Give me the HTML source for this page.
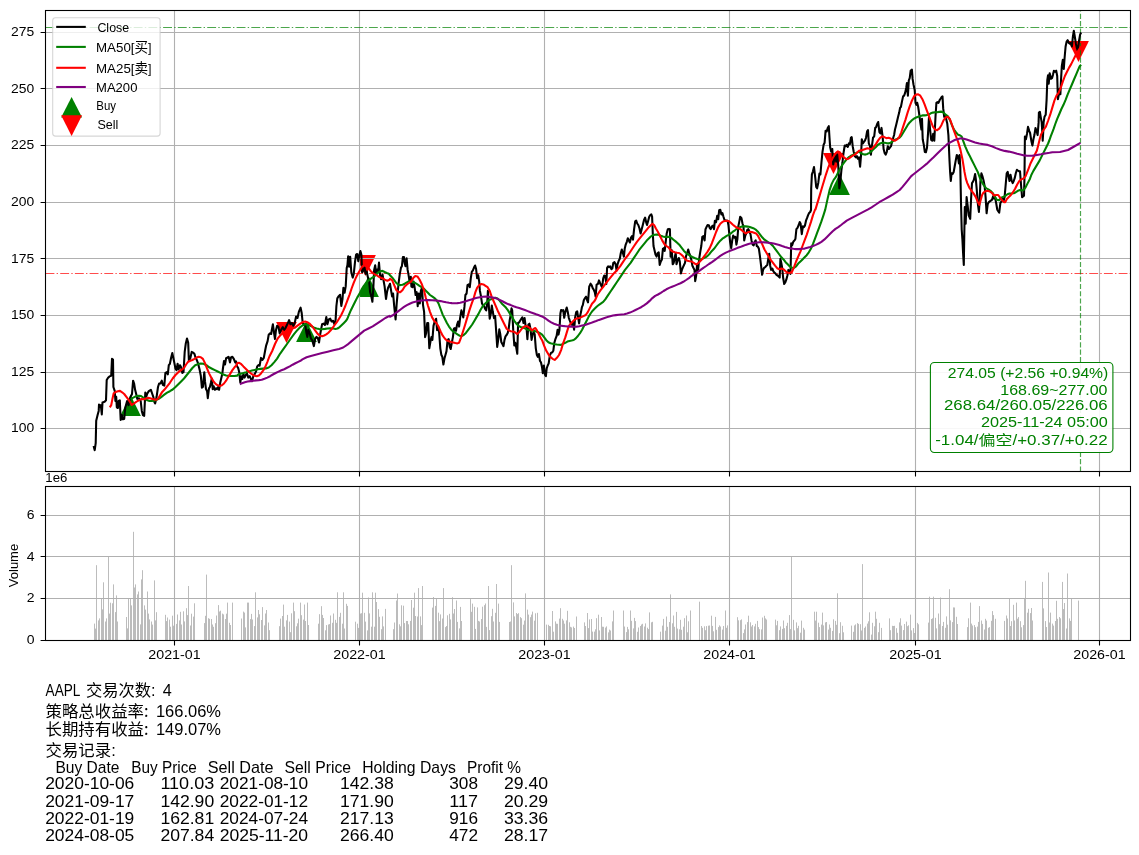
<!DOCTYPE html><html><head><meta charset="utf-8"><title>AAPL</title><style>html,body{margin:0;padding:0;background:#fff}svg{display:block}text{font-family:"Liberation Sans", "Noto Sans CJK SC", sans-serif}</style></head><body>
<svg width="1139" height="855" viewBox="0 0 1139 855">
<rect width="1139" height="855" fill="#fff"/>
<defs><clipPath id="c1"><rect x="45.5" y="10.5" width="1085.0" height="461.0"/></clipPath></defs>
<g>
<path d="M130.5 395.1 L120.1 415.9 L140.9 415.9 Z" fill="#008000"/>
<path d="M306.5 321.1 L296.1 341.9 L316.9 341.9 Z" fill="#008000"/>
<path d="M368.5 276.1 L358.1 296.9 L378.9 296.9 Z" fill="#008000"/>
<path d="M839.5 174.1 L829.1 194.9 L849.9 194.9 Z" fill="#008000"/>
<path d="M286.5 342.9 L276.1 322.1 L296.9 322.1 Z" fill="#ff0000"/>
<path d="M365.5 275.9 L355.1 255.1 L375.9 255.1 Z" fill="#ff0000"/>
<path d="M833.5 173.9 L823.1 153.1 L843.9 153.1 Z" fill="#ff0000"/>
<path d="M1078.5 61.9 L1068.1 41.1 L1088.9 41.1 Z" fill="#ff0000"/>
<path d="M174.5 10.5 V471.5 M359.5 10.5 V471.5 M544.5 10.5 V471.5 M729.5 10.5 V471.5 M915.5 10.5 V471.5 M1099.5 10.5 V471.5 M45.5 428.5 H1130.5 M45.5 372.5 H1130.5 M45.5 315.5 H1130.5 M45.5 258.5 H1130.5 M45.5 202.5 H1130.5 M45.5 145.5 H1130.5 M45.5 88.5 H1130.5 M45.5 32.5 H1130.5" stroke="#b0b0b0" stroke-width="1.1" fill="none"/>
<g clip-path="url(#c1)">
<path d="M45.5 273.5 H1130.5" stroke="#ff0000" stroke-opacity="0.7" stroke-width="1.2" stroke-dasharray="8.9,2.2,1.4,2.2" fill="none"/>
<path d="M45.5 27.5 H1130.5" stroke="#008000" stroke-opacity="0.7" stroke-width="1.2" stroke-dasharray="8.9,2.2,1.4,2.2" fill="none"/>
<path d="M1080.5 471.5 V10.5" stroke="#008000" stroke-opacity="0.7" stroke-width="1.2" stroke-dasharray="5.1,2.2" fill="none"/>
<polyline points="93.6,446.0 94.7,450.2 95.7,443.2 96.2,420.7 97.6,415.1 98.7,410.9 99.0,404.5 99.9,406.6 100.8,405.2 101.8,414.4 102.5,402.4 104.6,401.7 106.0,400.3 106.7,380.0 108.1,377.8 109.5,376.4 111.2,375.7 112.0,358.9 113.0,359.6 113.4,387.0 114.8,391.2 115.4,401.0 116.2,396.8 116.8,407.3 117.9,408.0 118.6,401.0 119.8,400.3 120.7,420.0 121.9,415.1 122.8,419.3 124.2,419.0 125.2,408.0 127.1,401.0 128.5,405.2 130.6,396.8 132.0,394.0 133.1,380.7 134.1,383.5 135.1,389.8 136.2,394.0 137.3,398.9 139.0,398.2 140.7,401.0 141.8,410.9 142.9,415.1 144.2,415.8 145.3,392.6 146.3,396.8 147.4,393.3 148.8,391.2 150.9,389.8 152.3,394.0 153.3,396.8 154.5,402.4 155.2,403.4 156.6,396.8 158.0,387.0 159.1,383.5 160.4,383.5 161.8,380.7 162.9,384.9 164.3,385.6 165.4,372.9 166.8,372.2 167.8,374.3 168.8,365.2 169.9,363.8 171.0,358.2 172.3,353.0 173.4,358.2 174.4,363.1 175.5,368.7 176.5,370.1 177.6,363.8 178.6,369.4 180.0,365.2 181.1,367.3 182.3,372.9 183.5,372.2 184.7,351.9 185.8,343.4 187.0,338.5 188.2,342.7 188.9,361.0 190.3,358.2 191.7,351.9 193.1,352.6 194.5,354.0 195.5,357.5 196.6,359.6 197.7,362.4 198.7,365.9 199.7,370.1 200.8,375.7 201.9,387.7 202.9,387.0 204.3,372.2 205.0,381.4 206.0,389.1 207.1,391.2 207.8,398.2 209.0,388.4 209.9,387.0 210.9,382.8 211.8,378.5 212.7,389.1 213.7,386.3 214.9,389.8 216.0,388.4 217.0,389.1 218.1,387.0 219.1,389.8 220.2,382.8 221.2,378.5 222.2,374.3 223.0,368.0 224.0,361.0 225.0,364.5 226.1,358.2 227.5,357.5 228.6,356.8 230.0,362.4 231.0,357.5 232.4,356.8 233.8,358.9 235.2,362.4 236.1,361.4 237.1,366.4 238.1,367.8 239.2,372.0 240.3,382.5 241.3,376.2 242.3,379.0 243.4,374.1 244.6,377.6 245.5,375.5 246.9,373.4 248.3,377.6 249.7,376.2 251.2,379.7 252.1,381.1 253.3,376.2 254.7,374.1 256.1,371.3 257.2,366.4 258.6,365.0 259.6,365.7 261.0,357.9 262.4,360.0 263.8,357.9 265.2,350.2 266.2,345.3 267.6,341.1 268.7,334.7 270.1,333.3 271.2,334.0 271.8,329.9 272.9,324.3 274.1,333.4 275.0,339.0 276.0,329.9 277.1,325.7 278.5,327.1 279.7,333.4 281.1,329.9 282.8,327.1 284.2,329.9 285.6,327.8 287.3,324.3 289.1,320.1 290.5,324.3 291.9,322.9 293.3,325.7 294.7,322.9 296.1,316.6 297.5,318.0 298.9,311.6 300.6,307.7 301.7,313.0 302.7,322.9 303.8,325.0 305.2,324.3 306.4,332.7 307.3,336.9 308.3,329.9 309.5,332.7 310.9,338.3 312.3,340.4 313.9,346.1 315.1,339.0 316.5,336.9 317.9,338.3 319.0,342.5 320.0,335.5 321.0,329.9 322.1,324.3 323.5,323.6 324.9,325.0 326.3,317.0 327.4,324.3 328.8,319.4 330.2,318.7 331.6,321.5 333.1,320.8 334.5,324.3 335.6,320.1 336.4,306.0 337.3,298.3 338.7,296.2 340.1,294.8 341.3,306.0 342.5,299.0 343.4,287.8 344.6,292.7 345.7,286.4 346.7,268.1 347.4,265.3 348.2,256.2 349.1,266.7 350.2,256.9 351.3,272.3 352.7,277.6 353.8,273.7 355.1,261.1 356.1,254.7 357.2,254.0 358.3,261.1 359.3,255.5 360.4,251.0 361.4,254.7 362.1,272.3 363.5,270.2 364.5,267.4 365.6,273.7 366.8,271.6 367.7,276.5 369.2,282.1 370.1,292.0 371.3,296.2 372.4,301.8 373.4,286.4 374.1,270.2 375.2,265.3 376.2,273.7 377.2,269.5 378.0,272.3 379.0,262.5 380.0,275.1 381.1,279.3 382.5,274.4 383.6,280.7 384.6,286.4 386.0,299.0 387.0,292.0 388.1,287.8 389.5,285.0 390.0,283.7 391.1,290.7 392.1,296.4 393.1,293.5 394.2,306.2 395.6,319.5 396.7,303.4 397.7,292.1 398.7,282.3 399.8,273.9 401.0,267.6 401.9,266.2 402.9,257.0 404.0,257.0 404.7,263.3 405.5,266.2 406.6,258.4 407.6,269.7 408.5,274.6 409.7,282.3 410.8,276.7 411.4,286.5 412.5,287.2 413.6,281.6 414.6,287.2 415.6,295.0 416.7,292.1 417.7,306.2 418.8,293.5 419.8,303.4 420.9,290.7 422.0,287.9 423.0,304.8 424.1,311.8 425.1,337.1 426.2,332.9 427.2,323.0 428.2,323.0 429.3,348.3 430.5,341.3 431.4,337.1 432.4,339.9 433.5,325.9 434.7,321.6 436.1,318.8 437.1,330.1 438.0,325.9 439.2,332.9 440.3,348.3 441.3,354.7 442.3,356.8 443.4,364.5 444.5,358.2 445.5,354.7 446.5,351.1 447.6,339.9 448.7,339.2 449.7,346.9 450.7,349.0 451.8,342.7 452.9,337.1 453.9,328.7 454.9,328.0 456.0,330.8 457.1,324.5 458.1,321.6 459.1,326.6 460.2,317.4 461.4,310.4 462.3,313.2 463.3,317.4 464.5,306.2 465.4,295.0 466.6,293.5 467.5,285.1 468.7,284.4 469.8,287.2 470.8,278.1 471.8,271.8 472.9,270.4 474.0,267.6 475.1,265.5 476.1,269.0 477.1,278.1 478.2,275.3 479.2,281.6 479.9,290.7 481.0,296.4 482.0,303.4 483.0,305.5 484.1,306.2 485.2,309.0 486.2,310.4 487.2,303.4 487.9,290.7 488.8,305.5 489.7,318.8 490.9,313.2 491.8,305.5 492.8,311.8 494.0,318.1 495.1,316.0 496.1,330.1 497.2,346.9 498.2,339.9 499.3,329.4 500.3,334.3 501.3,342.0 502.4,344.1 503.5,346.2 504.5,339.9 505.5,336.4 506.6,335.0 507.7,332.9 508.7,328.7 509.7,320.2 510.5,316.0 511.5,308.3 512.2,310.4 513.3,331.5 514.3,345.5 515.3,342.7 516.1,346.9 517.3,353.7 518.1,323.0 519.2,322.3 520.4,320.2 521.3,318.8 522.3,317.4 523.5,323.0 524.6,318.1 525.6,325.9 526.5,327.3 527.4,339.2 528.4,324.5 529.4,323.7 530.5,328.7 531.6,339.9 532.6,334.3 533.6,332.2 534.7,334.3 535.8,348.3 536.8,354.7 537.8,356.8 538.9,354.0 540.0,361.0 541.0,362.4 542.0,366.9 542.8,373.2 543.9,365.5 544.9,374.7 545.9,376.1 546.7,368.3 547.7,365.5 548.7,363.4 549.8,355.7 551.0,352.9 552.4,352.2 553.3,350.8 554.3,343.0 555.5,338.8 556.6,336.0 557.6,329.7 558.5,334.6 559.4,330.4 560.4,313.5 561.1,310.0 562.2,310.7 563.2,310.0 564.2,317.8 565.3,312.1 566.7,307.6 567.8,312.1 568.8,317.8 569.8,320.6 570.9,323.4 572.0,324.8 573.0,322.7 574.1,329.7 575.1,317.8 576.2,312.1 577.2,311.4 578.2,317.8 579.1,323.4 580.0,316.4 581.0,312.1 581.9,307.2 582.8,305.1 583.8,300.2 585.0,298.1 586.1,296.7 587.1,300.2 588.0,302.3 589.2,286.8 590.6,283.7 591.7,285.4 592.7,288.2 593.7,289.6 594.8,292.4 595.6,296.6 596.6,284.7 597.9,284.0 599.0,280.4 600.1,283.2 601.1,285.4 602.1,287.5 603.2,278.3 604.3,275.5 605.3,276.2 606.3,284.0 607.1,267.8 608.1,266.4 609.1,267.1 610.2,266.4 611.4,269.2 612.3,268.5 613.3,262.9 614.5,262.2 615.6,264.3 616.6,270.6 617.5,264.3 618.7,260.8 619.8,258.7 620.8,253.0 621.8,249.5 622.9,253.0 623.9,256.6 624.7,248.8 625.7,244.6 626.8,241.8 627.8,238.3 628.8,240.4 629.9,242.5 631.0,237.6 632.0,236.2 633.0,239.7 634.1,229.2 635.2,221.4 636.2,220.7 637.2,223.5 638.3,225.0 639.5,228.5 640.6,233.4 641.7,229.2 642.8,225.0 644.0,220.0 645.1,217.6 646.1,222.1 647.0,225.0 648.2,220.7 649.3,216.5 650.3,215.1 651.3,214.4 652.1,216.5 652.8,233.4 653.5,246.0 654.5,250.2 655.5,254.5 656.6,256.6 657.7,253.0 658.7,252.3 659.7,265.0 660.8,261.5 661.9,259.4 662.9,248.8 663.9,248.1 664.7,250.9 665.7,241.8 666.7,233.4 667.8,229.2 669.0,228.9 669.9,229.2 670.6,256.6 671.8,250.2 672.7,264.3 673.7,262.9 674.9,256.6 675.7,253.0 676.5,264.3 677.7,260.1 678.8,258.0 679.8,261.5 680.9,273.4 681.9,269.9 683.0,267.1 684.0,265.0 685.0,262.9 686.1,255.9 687.2,253.0 688.2,249.5 689.2,253.0 690.3,255.9 691.4,260.1 692.4,265.7 693.4,267.8 694.5,269.9 695.2,281.1 696.2,275.5 697.1,264.3 698.1,269.9 699.2,258.7 700.3,251.6 701.3,246.0 702.3,236.9 703.4,236.2 704.6,240.4 705.5,229.2 706.5,227.1 707.6,225.0 708.8,225.2 709.7,227.8 710.7,229.2 711.9,226.4 713.0,225.7 714.0,229.2 714.9,220.7 716.1,222.1 717.2,215.8 718.2,219.3 719.2,210.2 720.3,209.8 721.4,214.4 722.4,213.0 723.4,216.5 724.5,220.0 725.6,220.7 726.6,220.5 727.6,220.7 728.4,225.0 729.4,234.8 730.1,241.8 731.2,248.1 732.2,240.4 733.2,235.5 734.3,237.6 735.5,236.9 736.4,244.6 737.4,239.0 738.3,226.4 739.2,222.1 740.2,216.8 741.4,217.9 742.5,223.5 743.5,226.4 744.2,240.4 745.3,235.5 746.3,233.4 747.3,229.9 748.4,229.2 749.5,232.0 750.5,234.1 751.5,240.4 752.6,244.6 753.7,245.3 754.7,241.8 755.7,240.4 756.8,246.0 757.9,246.7 758.9,248.8 759.9,255.9 761.0,265.0 762.1,274.8 763.1,269.9 764.1,267.8 765.2,267.1 766.4,265.7 767.3,265.0 768.3,258.7 769.2,253.7 770.2,265.7 771.1,269.9 772.3,268.5 773.4,271.3 774.4,272.7 775.4,273.4 776.5,274.8 777.6,275.5 778.7,276.6 779.7,277.6 780.4,258.7 781.3,262.9 782.1,267.1 783.2,278.3 784.2,284.0 785.2,282.5 786.3,279.7 787.4,275.5 788.4,269.9 789.4,271.3 790.5,273.8 791.2,243.2 792.2,245.3 793.3,241.8 794.5,240.4 795.4,239.0 796.4,229.2 797.5,227.8 798.7,225.0 799.7,222.1 800.6,223.5 801.8,234.1 802.9,226.4 803.9,227.1 804.9,225.7 806.0,220.7 807.1,217.9 808.1,215.1 809.1,213.0 810.2,212.0 811.0,210.0 811.2,188.3 811.9,174.3 812.9,171.5 814.0,167.0 815.2,177.1 816.2,186.9 817.1,188.3 818.3,182.7 819.4,173.6 820.4,174.3 821.4,163.0 822.5,151.8 823.6,144.8 824.6,142.7 825.6,130.7 826.7,131.4 827.8,127.9 828.8,126.2 829.5,137.8 830.2,147.6 831.2,151.8 832.3,149.0 833.2,164.5 834.1,160.2 835.1,156.0 836.2,161.6 837.2,154.6 838.2,164.5 839.3,188.3 840.5,179.9 841.4,170.1 842.4,163.0 843.5,153.2 844.7,145.5 845.7,146.2 846.6,144.8 847.8,146.9 848.9,143.4 849.9,144.1 850.9,137.8 851.7,137.1 852.7,146.2 853.7,151.8 854.8,156.0 855.9,157.4 856.9,156.0 857.9,158.8 859.0,157.4 860.1,166.6 861.1,154.6 861.8,139.2 862.9,143.4 863.9,142.0 864.9,140.6 866.0,137.8 867.1,131.4 868.0,130.0 868.8,143.4 870.0,146.2 870.9,154.6 871.9,146.2 873.0,137.8 874.2,136.4 875.2,127.9 876.1,127.2 877.3,123.7 878.2,122.0 879.4,132.1 880.4,133.5 881.5,127.9 882.6,136.4 883.6,149.0 884.7,153.2 885.7,154.6 886.8,151.8 887.8,146.2 888.8,149.0 889.9,147.6 891.0,146.2 892.0,142.0 893.0,138.5 894.1,135.0 895.0,129.5 896.1,125.2 897.1,121.0 898.1,116.8 899.2,112.6 900.1,107.7 900.9,107.0 902.0,101.4 903.1,96.4 904.1,95.7 905.1,92.9 906.2,88.0 906.9,83.1 907.9,95.7 908.8,80.3 909.7,78.2 910.7,70.5 911.9,69.7 912.6,78.9 913.5,84.5 914.7,90.1 915.5,102.8 916.4,104.9 917.2,102.8 918.2,107.0 919.2,114.0 920.3,122.4 921.4,129.5 922.0,118.9 922.7,139.3 923.8,144.9 924.8,151.9 925.9,152.3 927.0,147.7 928.0,133.7 929.0,116.8 930.1,129.5 931.2,140.0 932.2,140.7 933.2,133.7 934.3,140.7 935.5,116.8 936.4,102.8 937.4,102.1 938.5,102.8 939.7,100.0 940.7,98.5 941.6,97.1 942.5,96.4 943.2,108.4 944.2,116.8 945.3,116.1 946.3,119.6 947.3,123.8 948.4,135.1 949.5,160.4 950.1,171.9 950.8,181.0 951.6,173.3 952.6,174.0 953.7,171.9 954.7,166.2 955.7,160.6 956.8,155.0 957.9,156.4 958.9,163.4 959.6,155.0 960.3,167.6 961.0,202.8 961.7,229.5 962.4,239.3 963.1,253.3 963.8,264.9 964.3,233.7 964.8,207.0 965.7,223.8 966.6,197.1 967.8,207.0 968.7,215.4 970.2,218.9 971.1,198.5 972.0,183.1 973.0,181.7 973.9,179.6 975.1,174.0 975.8,178.9 976.8,190.1 977.9,204.2 978.9,211.9 979.7,200.0 980.4,181.7 981.4,173.3 982.4,176.1 983.5,180.3 984.6,185.9 985.6,197.1 986.6,213.3 987.7,204.2 988.8,202.1 989.8,201.4 990.8,200.7 991.9,200.0 993.1,196.4 994.0,198.5 995.0,197.1 996.1,202.8 997.3,209.8 998.2,211.2 999.2,212.6 1000.4,202.8 1001.5,201.4 1002.5,198.5 1003.4,201.4 1004.6,197.1 1005.7,184.5 1006.7,173.3 1007.7,171.9 1008.8,177.5 1009.5,181.0 1010.5,174.7 1011.6,180.3 1012.7,183.1 1013.7,181.0 1014.7,178.2 1015.8,173.3 1016.9,169.7 1017.9,170.5 1018.9,171.2 1020.0,171.2 1021.0,184.5 1022.1,197.1 1023.1,196.4 1024.0,195.7 1024.5,176.1 1024.9,136.5 1025.9,139.3 1027.0,133.7 1028.0,126.9 1029.2,130.9 1030.1,133.0 1031.3,140.7 1032.4,145.6 1033.4,139.3 1034.4,135.1 1035.5,128.0 1036.6,130.9 1037.6,135.1 1038.6,122.4 1038.9,112.5 1039.9,111.8 1040.7,116.8 1041.7,122.4 1042.3,132.2 1042.7,140.6 1043.3,130.8 1043.6,122.4 1044.5,116.8 1045.7,114.7 1046.6,99.9 1047.3,80.2 1048.0,75.3 1048.7,83.7 1049.7,73.2 1050.9,78.8 1052.0,78.1 1053.0,74.6 1053.9,70.7 1055.1,71.8 1056.2,70.7 1057.2,76.0 1057.9,99.2 1058.9,94.3 1059.7,88.7 1060.4,94.3 1061.0,80.2 1061.8,66.2 1062.8,59.9 1063.8,69.0 1064.6,57.8 1065.6,46.5 1066.6,41.6 1067.7,40.2 1068.8,43.0 1069.8,43.7 1070.9,43.0 1071.9,46.5 1072.9,36.7 1073.8,30.8 1074.7,36.0 1075.9,43.7 1076.8,47.9 1077.8,50.7 1079.0,40.9 1080.1,34.6 1081.1,32.5" fill="none" stroke="#000" stroke-width="2.08" stroke-linejoin="round" stroke-linecap="butt"/>
<polyline points="130.6,399.6 132.7,397.9 134.8,396.8 136.9,396.1 139.0,395.7 141.1,396.1 143.2,397.5 145.3,398.9 147.4,400.3 149.5,401.0 151.6,401.0 153.7,400.7 156.6,399.9 158.7,398.9 161.5,396.8 164.3,394.7 167.1,392.6 169.9,391.2 172.7,389.5 175.5,387.0 178.3,384.2 181.1,381.4 184.0,378.5 186.8,375.0 189.6,371.5 192.4,368.0 195.2,365.2 198.0,364.1 200.8,363.5 203.6,363.8 206.4,365.2 209.2,367.3 212.0,368.7 214.9,370.1 217.7,371.5 220.5,372.9 223.3,374.6 226.1,375.5 228.9,375.9 231.7,376.0 234.5,376.0 237.3,375.6 237.8,374.8 240.6,373.8 243.4,373.1 246.2,372.3 249.0,371.4 251.9,370.6 254.7,369.9 257.5,369.2 260.3,368.9 263.1,368.6 265.9,368.5 268.7,367.5 271.5,365.2 274.3,362.1 277.1,358.6 280.0,353.8 283.5,348.9 287.0,344.0 290.5,339.0 294.0,334.1 297.5,329.9 300.3,327.1 303.1,325.0 305.2,324.3 308.0,324.7 310.9,326.0 313.7,327.4 316.5,328.5 319.3,329.1 322.1,329.2 324.9,328.9 327.7,328.5 330.5,328.2 333.3,328.5 335.4,328.9 337.5,328.5 339.7,327.1 341.8,325.0 343.9,322.9 346.0,320.8 347.4,318.7 348.8,315.2 350.9,310.2 353.0,306.0 355.1,301.8 357.2,297.6 359.3,294.1 361.4,289.9 363.5,286.4 365.6,283.5 367.7,281.4 369.9,279.3 372.0,277.9 374.1,276.5 376.2,274.4 378.3,272.3 380.4,271.2 382.5,270.9 384.6,272.0 386.7,273.0 388.8,273.7 390.0,275.3 392.1,277.4 394.2,280.2 396.3,283.0 398.4,284.8 400.5,285.1 402.6,284.7 404.7,283.7 406.9,282.3 409.0,281.2 411.1,281.6 413.2,282.3 415.3,283.0 417.4,284.4 419.5,285.8 421.6,287.2 423.7,288.6 425.8,290.7 427.9,292.8 430.0,295.0 432.1,296.4 434.2,297.8 436.4,299.9 438.5,303.4 440.6,309.0 442.7,314.6 444.8,318.8 446.9,323.0 449.0,326.6 451.1,329.4 453.2,331.5 455.3,332.9 457.4,334.3 459.5,335.7 461.6,336.0 463.7,335.0 465.9,332.9 468.0,330.1 470.1,327.3 472.2,324.5 474.3,320.9 476.4,317.4 478.5,313.9 480.6,309.7 482.7,306.2 484.8,304.1 486.9,302.0 489.0,299.9 491.1,299.2 493.2,298.5 495.4,297.8 497.5,298.5 499.6,300.6 501.7,303.4 503.8,305.5 505.9,307.6 508.0,310.4 510.1,313.9 512.2,317.4 514.3,320.9 516.4,323.7 518.5,325.9 520.6,327.0 522.7,327.5 524.9,328.4 527.0,329.4 529.1,330.1 531.2,330.8 533.3,330.8 535.4,331.2 537.5,331.9 539.6,332.9 541.7,334.3 542.1,334.6 544.2,337.4 546.3,340.2 548.4,342.3 550.5,343.3 552.6,343.7 554.7,344.2 556.9,344.5 559.0,344.7 561.1,344.9 563.2,343.7 565.3,342.8 567.4,341.6 569.5,340.9 571.6,340.5 573.7,340.0 575.8,338.4 577.9,336.0 580.0,333.2 582.1,329.7 584.2,325.5 586.4,321.3 588.5,317.1 590.6,313.5 592.7,310.7 594.8,308.6 596.9,306.5 599.0,304.8 601.1,303.3 603.2,301.9 605.3,299.4 608.1,295.2 610.9,291.0 613.7,286.8 616.6,282.5 619.4,278.3 622.2,274.1 625.0,269.9 627.8,266.4 630.6,262.9 633.4,258.7 636.2,254.5 639.0,250.2 641.8,246.7 644.7,243.2 647.5,239.7 650.3,236.9 652.4,235.5 654.5,234.8 656.6,234.5 658.7,234.8 660.8,235.8 662.9,236.5 665.0,236.9 667.1,236.9 669.2,236.9 671.3,237.9 673.5,239.7 675.6,241.4 677.7,243.2 679.8,245.3 681.9,248.1 684.0,250.9 686.1,253.0 688.2,254.5 690.3,255.9 692.4,257.0 694.5,258.0 696.6,258.7 697.1,258.9 699.2,259.4 701.3,259.4 703.4,258.4 705.5,257.3 707.6,255.9 709.7,253.7 711.9,250.9 714.0,248.8 716.1,246.0 718.2,243.2 720.3,240.7 722.4,238.7 724.5,237.3 726.6,235.9 728.7,234.8 730.8,233.4 732.9,231.7 735.0,230.3 737.1,228.5 739.2,227.5 741.4,226.6 743.5,226.4 745.6,226.4 747.7,226.6 749.8,227.1 751.9,227.8 754.0,228.5 756.1,229.9 758.2,232.0 760.3,234.8 762.4,237.6 764.5,239.7 766.6,241.1 768.7,242.5 770.9,243.9 773.0,246.0 775.1,248.8 777.2,251.6 779.3,254.5 781.4,257.3 783.5,259.4 785.6,262.2 787.7,264.3 789.8,266.4 791.9,267.8 794.0,267.8 796.1,266.4 798.2,263.6 800.4,261.5 802.5,259.4 804.6,257.3 806.7,255.2 808.8,252.3 810.9,248.8 813.0,243.9 815.1,238.3 817.2,232.7 819.3,227.1 821.4,221.4 823.5,215.1 825.3,209.4 827.4,199.6 829.5,190.4 831.6,184.1 833.7,179.9 835.8,177.1 837.9,172.9 840.0,168.7 842.1,165.2 844.2,162.3 846.4,159.5 848.5,157.4 850.6,156.0 852.7,154.9 854.8,153.9 856.9,152.5 859.0,151.8 861.1,153.2 863.2,154.3 865.3,154.6 867.4,153.9 869.5,152.8 871.6,151.1 873.7,149.0 875.9,146.9 878.0,144.8 880.1,143.4 882.2,142.7 884.3,142.7 886.4,143.1 888.5,143.4 890.6,142.7 892.7,141.3 895.0,139.7 897.1,138.9 899.2,137.9 901.3,135.8 903.4,132.3 905.5,128.7 907.6,125.2 909.7,122.4 911.9,120.3 914.0,118.6 916.1,117.5 918.2,116.8 920.3,116.1 922.4,115.4 924.5,115.4 926.6,115.1 928.7,114.7 930.8,113.3 932.9,112.6 935.0,112.3 937.1,112.2 939.2,111.9 941.4,111.6 943.5,112.6 945.6,114.7 947.7,116.1 949.8,119.6 951.9,125.2 954.0,129.5 956.1,132.3 958.2,134.8 960.3,135.5 961.7,136.5 963.1,140.7 965.2,146.3 967.3,151.2 969.5,155.4 971.6,159.7 973.7,163.9 975.8,168.1 977.9,172.3 980.0,178.2 982.1,182.4 984.2,185.9 986.3,188.4 988.4,189.4 990.5,190.8 992.6,192.9 994.7,196.4 996.8,199.7 999.0,200.2 1001.1,197.8 1003.2,196.9 1005.3,196.0 1007.4,194.3 1009.5,193.6 1011.6,193.6 1013.7,193.2 1015.8,192.2 1017.9,190.8 1020.0,190.1 1022.1,190.4 1023.5,190.1 1025.6,187.3 1027.7,183.1 1029.9,178.9 1031.3,175.0 1033.4,170.9 1035.5,167.4 1037.6,163.9 1039.7,160.4 1041.8,156.1 1043.9,151.9 1046.0,147.7 1048.1,143.5 1049.5,140.0 1050.9,135.8 1052.3,132.3 1053.7,128.7 1055.1,124.5 1057.2,118.9 1059.3,114.0 1061.4,109.0 1063.5,104.8 1065.6,99.9 1067.7,94.3 1069.8,89.4 1071.9,84.5 1074.0,79.5 1076.1,74.6 1078.2,69.7 1079.7,66.2 1081.1,64.8" fill="none" stroke="#008000" stroke-width="2.08" stroke-linejoin="round"/>
<polyline points="109.8,407.3 111.2,405.2 112.3,399.6 113.7,393.3 115.8,391.9 117.9,391.2 120.0,390.9 122.1,392.3 124.2,394.0 126.4,396.8 128.5,399.6 130.3,402.4 131.7,405.0 133.4,403.8 135.5,402.4 137.6,401.0 139.7,399.9 141.8,398.9 143.9,399.3 146.0,398.5 148.1,397.9 150.2,398.2 152.3,398.9 154.5,399.6 156.6,399.6 158.4,398.2 160.1,395.4 162.2,391.9 164.3,389.8 167.1,386.3 169.9,382.8 172.7,378.5 175.5,375.0 178.3,372.2 181.1,370.1 184.0,368.0 186.1,364.5 188.2,361.7 190.3,360.7 192.4,360.0 194.5,358.9 196.6,357.5 198.7,356.8 200.8,357.2 202.9,358.9 205.0,363.1 207.1,368.7 209.2,373.6 211.3,377.8 213.5,381.4 215.6,383.9 217.7,385.3 219.8,385.9 221.9,385.3 224.0,383.5 226.1,380.7 228.2,377.1 230.3,373.6 232.4,370.1 234.5,367.3 236.6,365.2 237.1,363.3 239.2,362.8 241.3,364.2 243.4,366.4 246.2,369.2 249.0,372.0 251.9,374.1 254.7,375.8 256.8,376.2 258.9,375.5 261.0,373.4 263.1,370.6 265.2,367.1 267.3,362.1 269.4,356.5 272.2,351.0 275.0,344.0 277.8,338.3 280.7,334.8 283.5,332.7 286.3,331.3 289.1,329.9 291.9,328.5 294.7,327.8 297.5,325.7 300.3,323.6 303.1,321.9 305.2,321.5 307.3,322.2 309.5,323.6 311.6,325.7 313.7,328.5 315.8,331.3 317.9,334.1 320.0,335.8 322.1,336.2 324.2,335.5 326.3,334.4 328.4,332.7 330.5,330.6 332.6,327.8 334.7,325.0 336.8,322.2 339.0,318.7 341.1,315.2 343.2,310.9 345.3,306.0 347.4,300.4 349.5,294.8 351.6,288.5 353.7,282.8 355.8,277.9 357.9,273.7 360.0,270.2 362.1,266.7 364.2,265.3 366.3,266.0 368.5,268.1 370.6,270.9 372.7,273.0 374.8,274.4 376.9,275.4 379.0,276.8 381.1,277.9 383.2,278.6 385.3,280.0 387.4,280.7 389.5,279.8 390.0,278.8 392.1,280.2 394.2,285.1 396.3,290.0 398.4,292.1 400.5,292.1 402.6,290.0 404.7,286.5 406.9,284.4 409.0,283.0 411.1,281.6 413.2,278.1 415.3,276.0 417.4,276.4 419.5,279.5 421.6,283.7 423.7,289.3 425.8,297.8 427.9,305.5 430.0,311.8 432.1,317.4 434.2,320.9 436.4,323.0 438.5,326.6 440.6,331.5 442.7,335.7 444.8,338.5 446.9,340.6 449.0,341.3 451.1,342.0 453.2,342.4 455.3,343.0 457.4,343.4 459.1,342.7 460.9,337.8 463.0,331.5 465.2,324.5 467.3,317.4 469.4,310.4 471.5,304.1 473.6,298.5 475.4,292.1 477.1,287.9 479.2,285.1 481.3,284.0 483.4,284.4 485.5,285.8 487.6,287.2 489.7,290.7 491.8,297.1 494.0,302.0 496.1,306.9 498.2,311.8 500.3,316.0 502.4,320.2 504.5,324.5 506.6,328.7 508.7,330.4 510.8,331.2 512.9,331.5 515.0,332.2 517.1,334.0 519.2,332.2 521.3,329.4 523.5,327.0 525.6,326.1 527.7,326.6 529.8,328.0 531.9,330.4 534.0,328.7 535.4,328.0 536.8,330.1 538.9,334.3 541.0,338.5 542.1,340.2 544.2,345.9 546.3,350.8 548.4,354.3 550.5,357.1 552.6,358.8 554.7,359.9 556.9,357.8 559.0,355.0 561.1,350.1 563.2,343.0 565.3,337.4 567.4,330.4 568.8,326.2 570.9,323.4 573.0,321.3 575.1,319.2 577.2,318.2 579.3,318.0 581.4,317.1 583.5,316.1 585.7,315.0 587.8,312.1 589.9,307.9 592.0,303.7 594.1,301.6 595.5,299.4 597.6,294.5 600.4,290.3 603.2,286.8 606.0,283.2 608.8,279.7 611.6,276.2 614.5,272.7 617.3,269.9 620.1,266.4 622.9,262.2 625.7,258.0 628.5,254.5 631.3,250.2 634.1,246.0 636.9,241.8 639.7,238.3 642.5,234.8 645.4,231.3 648.2,227.8 650.3,225.7 652.4,223.8 654.1,225.0 655.9,228.5 658.0,232.0 660.1,236.2 662.2,240.4 664.3,243.9 666.4,246.0 668.5,247.4 670.6,250.2 672.7,251.6 674.9,252.3 677.0,252.8 679.1,253.0 681.2,254.5 683.3,256.6 685.4,259.4 687.5,260.8 689.6,261.2 691.7,261.5 693.8,262.9 695.9,264.3 697.1,264.0 699.2,262.2 701.3,260.1 703.4,257.3 705.5,254.5 707.6,251.6 709.7,248.1 711.9,243.2 714.0,237.6 716.1,232.0 718.2,227.1 720.3,223.8 722.4,221.9 724.5,221.0 726.6,220.7 728.7,221.0 730.8,222.8 732.9,224.7 735.0,226.4 737.1,227.8 739.2,228.5 741.4,229.9 743.5,231.7 745.6,233.4 747.7,232.3 749.8,231.7 751.9,232.0 754.0,232.7 756.1,233.4 758.2,236.2 760.3,240.4 762.4,244.6 764.5,249.5 766.6,253.0 768.7,256.6 770.9,260.1 773.0,262.9 775.1,265.7 777.2,268.2 779.3,269.2 781.4,268.5 783.5,269.2 785.6,271.3 787.7,272.7 789.8,273.0 791.9,272.0 794.0,267.1 796.1,261.5 798.2,256.6 800.4,251.6 802.5,246.0 804.6,240.4 806.7,234.8 808.8,228.5 810.9,222.1 813.0,215.1 815.1,209.5 815.5,209.4 817.6,202.4 819.7,195.4 821.8,188.3 823.9,181.3 826.0,174.3 828.1,168.0 830.2,163.0 832.3,158.8 834.4,155.3 836.2,152.5 837.9,151.4 840.0,152.5 842.1,155.3 844.2,157.7 846.4,159.1 848.5,158.8 850.6,157.1 852.7,155.7 854.8,154.6 856.9,152.9 859.0,150.7 861.1,150.4 863.2,149.7 865.3,149.0 867.4,148.3 869.5,148.7 871.6,149.0 873.7,146.9 875.9,144.1 878.0,140.6 880.1,137.8 882.2,136.4 884.3,137.1 886.4,138.2 888.5,137.8 890.6,138.5 892.7,139.9 895.0,140.7 897.1,139.3 899.2,137.2 901.3,132.3 903.4,125.9 905.5,119.6 907.6,112.6 909.7,106.3 911.9,100.7 914.0,96.4 916.1,94.6 918.2,94.3 920.3,95.7 922.4,99.2 924.5,104.2 926.6,109.8 928.7,115.4 930.8,121.0 932.9,126.6 935.0,129.5 937.1,130.2 939.2,128.7 941.4,125.2 943.5,120.3 945.6,117.5 947.7,116.8 949.8,118.9 951.9,124.5 954.0,130.9 956.1,136.5 958.2,142.1 960.3,149.1 962.4,159.0 963.8,167.4 964.5,171.9 965.9,178.9 967.3,183.1 969.5,188.0 971.6,190.8 973.7,193.6 975.8,197.1 977.9,202.1 979.3,204.9 980.7,200.0 982.1,195.0 983.5,192.6 985.6,191.2 987.7,190.8 989.8,191.5 991.9,192.9 994.0,195.5 996.1,195.0 998.2,195.0 999.7,197.1 1001.8,200.0 1003.9,202.1 1005.3,202.1 1006.7,199.2 1008.8,197.1 1010.9,195.0 1013.0,192.2 1015.1,188.7 1017.2,184.5 1019.3,181.0 1021.4,179.2 1023.5,178.6 1025.6,176.1 1028.5,168.8 1030.6,163.2 1032.7,159.0 1034.8,154.7 1036.9,150.5 1038.3,144.9 1039.7,139.3 1041.1,134.4 1042.5,131.6 1043.9,129.5 1045.9,126.6 1048.0,121.0 1050.2,114.7 1052.3,107.6 1054.4,100.6 1056.5,95.7 1058.6,92.9 1060.7,88.0 1062.8,81.6 1064.9,76.0 1067.0,71.8 1069.1,67.6 1071.2,64.1 1073.3,59.9 1075.4,55.7 1077.5,52.1 1079.7,48.6 1081.1,46.5" fill="none" stroke="#ff0000" stroke-width="2.08" stroke-linejoin="round"/>
<polyline points="239.9,384.3 242.0,383.2 244.8,382.2 247.6,381.5 250.5,381.1 253.3,380.7 256.1,380.4 258.9,380.1 261.7,379.7 264.5,378.7 267.3,377.6 270.1,376.2 272.9,374.5 275.7,373.0 278.5,371.6 281.4,370.3 284.2,369.2 287.0,367.8 289.8,366.4 292.6,364.7 295.4,363.3 298.2,361.9 301.0,360.5 302.4,359.4 306.6,357.3 310.9,355.9 316.5,354.5 322.1,353.1 327.7,351.7 333.3,350.3 339.0,348.9 343.2,347.5 347.4,344.7 351.6,341.1 355.8,337.6 360.0,334.1 364.2,330.6 368.5,328.5 372.7,326.4 376.9,323.6 381.1,320.8 385.3,318.0 389.5,315.9 390.0,316.7 392.8,315.3 395.6,313.2 398.4,311.1 401.2,309.0 404.0,306.9 406.9,305.1 409.7,303.7 412.5,302.5 415.3,301.7 418.1,301.1 420.9,300.6 423.7,300.3 426.5,300.1 429.3,300.1 432.1,300.3 435.0,300.4 437.8,300.7 440.6,301.1 443.4,301.7 446.2,302.3 449.0,302.8 451.8,303.1 454.6,303.2 457.4,303.1 460.2,302.7 463.0,302.0 465.9,301.3 468.7,300.3 471.5,299.4 474.3,298.6 477.1,297.8 479.9,297.2 482.7,296.8 485.5,296.6 488.3,296.8 491.1,297.2 494.0,297.8 496.8,298.6 499.6,299.9 502.4,301.3 505.2,302.7 508.0,304.1 510.8,305.1 513.6,306.2 516.4,307.2 519.2,308.0 522.0,309.0 524.9,310.0 527.7,311.1 530.5,312.2 533.3,313.2 536.1,314.3 538.9,315.3 540.0,315.7 542.8,316.8 545.6,318.5 548.4,320.6 551.2,322.4 554.0,323.8 556.9,324.8 559.7,325.5 562.5,325.9 565.3,326.2 568.1,326.5 570.9,326.6 573.7,326.8 576.5,326.6 579.3,326.2 582.1,325.6 585.0,325.1 587.8,324.1 590.6,323.1 593.4,322.0 596.2,321.0 599.0,319.9 601.8,318.9 604.6,317.9 607.4,317.1 610.2,316.2 613.0,315.5 615.9,315.1 618.7,314.8 621.5,314.5 624.3,314.2 627.1,313.5 629.9,312.6 632.7,311.4 635.5,310.0 638.3,308.6 641.1,307.2 644.0,305.4 646.8,303.4 649.6,300.9 652.4,298.1 655.2,295.9 658.0,294.5 660.8,292.8 663.6,291.0 666.4,289.3 669.2,287.9 672.0,286.8 674.9,285.6 677.7,284.4 680.5,283.2 683.3,281.8 686.1,280.0 688.9,278.1 691.7,275.8 694.5,273.8 695.0,273.4 697.8,272.0 700.6,269.9 703.4,267.8 706.2,266.0 709.0,264.0 711.9,262.2 714.7,260.1 717.5,258.0 720.3,255.9 723.1,254.2 725.9,252.6 728.7,251.4 731.5,250.2 734.3,249.3 737.1,248.1 740.0,247.1 742.8,246.0 745.6,244.9 748.4,243.9 751.2,243.2 754.0,242.8 756.8,242.5 759.6,242.2 762.4,242.2 765.2,242.4 768.0,242.7 770.9,243.1 773.7,243.6 776.5,244.3 779.3,245.0 782.1,246.0 784.9,246.9 787.7,247.7 790.5,248.4 793.3,248.8 796.1,249.1 799.0,249.1 801.8,248.8 804.6,248.6 807.4,247.8 810.2,247.0 813.0,246.0 815.8,244.9 818.6,243.5 821.4,241.8 824.2,239.7 827.0,236.9 829.9,234.1 832.7,231.3 835.5,228.9 838.3,227.1 841.1,225.0 843.9,222.8 846.7,220.7 849.5,219.1 852.3,217.6 868.1,209.4 871.6,207.3 875.9,204.5 880.1,201.7 884.3,199.3 888.5,197.0 892.7,194.7 896.9,191.8 899.7,190.0 902.5,186.9 905.4,183.4 908.2,179.9 911.0,176.4 912.6,175.0 916.1,172.3 919.6,169.5 923.1,166.7 926.6,163.9 930.1,160.6 933.6,157.3 937.1,153.8 940.7,150.2 944.2,147.0 947.7,143.8 951.2,141.8 954.7,140.0 958.2,138.9 961.0,138.3 963.8,138.7 966.6,139.6 970.9,141.0 975.1,142.4 979.3,143.5 983.5,144.2 987.7,144.9 991.9,146.3 996.1,148.1 1000.4,149.8 1004.6,150.9 1008.8,151.6 1013.0,152.6 1017.2,153.8 1021.4,154.7 1024.2,155.4 1027.0,155.7 1029.9,155.7 1032.7,155.6 1035.5,155.2 1038.3,154.7 1041.1,154.2 1043.9,153.6 1046.7,153.2 1049.5,152.8 1052.3,152.3 1060.0,152.0 1068.0,150.0 1075.0,146.0 1080.5,142.8" fill="none" stroke="#800080" stroke-width="2.08" stroke-linejoin="round"/>
</g>
<path d="M174.5 471.5 v4.9 M359.5 471.5 v4.9 M544.5 471.5 v4.9 M729.5 471.5 v4.9 M915.5 471.5 v4.9 M1099.5 471.5 v4.9 M45.5 428.5 h-4.9 M45.5 372.5 h-4.9 M45.5 315.5 h-4.9 M45.5 258.5 h-4.9 M45.5 202.5 h-4.9 M45.5 145.5 h-4.9 M45.5 88.5 h-4.9 M45.5 32.5 h-4.9" stroke="#000" stroke-width="1.1" fill="none"/>
<rect x="45.5" y="10.5" width="1085.0" height="461.0" fill="none" stroke="#000" stroke-width="1.1"/>
<text x="34.2" y="432.4" text-anchor="end" font-size="12.8" textLength="23.2" lengthAdjust="spacingAndGlyphs">100</text>
<text x="34.2" y="375.8" text-anchor="end" font-size="12.8" textLength="23.2" lengthAdjust="spacingAndGlyphs">125</text>
<text x="34.2" y="319.2" text-anchor="end" font-size="12.8" textLength="23.2" lengthAdjust="spacingAndGlyphs">150</text>
<text x="34.2" y="262.6" text-anchor="end" font-size="12.8" textLength="23.2" lengthAdjust="spacingAndGlyphs">175</text>
<text x="34.2" y="206.0" text-anchor="end" font-size="12.8" textLength="23.2" lengthAdjust="spacingAndGlyphs">200</text>
<text x="34.2" y="149.4" text-anchor="end" font-size="12.8" textLength="23.2" lengthAdjust="spacingAndGlyphs">225</text>
<text x="34.2" y="92.8" text-anchor="end" font-size="12.8" textLength="23.2" lengthAdjust="spacingAndGlyphs">250</text>
<text x="34.2" y="36.2" text-anchor="end" font-size="12.8" textLength="23.2" lengthAdjust="spacingAndGlyphs">275</text>
</g>
<g>
<rect x="52.7" y="17.7" width="107.4" height="118.4" rx="2.8" fill="#fff" fill-opacity="0.8" stroke="#ccc" stroke-opacity="0.8" stroke-width="1.1"/>
<path d="M56.2 26.9 h29.6" stroke="#000" stroke-width="2.08"/>
<path d="M56.2 46.9 h29.6" stroke="#008000" stroke-width="2.08"/>
<path d="M56.2 67.8 h29.6" stroke="#ff0000" stroke-width="2.08"/>
<path d="M56.2 87.0 h29.6" stroke="#800080" stroke-width="2.08"/>
</g>
<g>
<path d="M94.5 640.5 V623.6 M95.5 640.5 V628.6 M96.5 640.5 V565.2 M98.5 640.5 V620.4 M99.5 640.5 V618.4 M101.5 640.5 V598.5 M102.5 640.5 V609.4 M103.5 640.5 V582.3 M105.5 640.5 V621.5 M106.5 640.5 V618.4 M108.5 640.5 V556.9 M109.5 640.5 V613.6 M110.5 640.5 V602.7 M112.5 640.5 V603.3 M113.5 640.5 V584.4 M115.5 640.5 V612.1 M116.5 640.5 V595.4 M117.5 640.5 V621.5 M126.5 640.5 V617.0 M127.5 640.5 V628.4 M128.5 640.5 V598.5 M130.5 640.5 V599.0 M131.5 640.5 V605.4 M133.5 640.5 V531.8 M134.5 640.5 V587.5 M135.5 640.5 V584.4 M137.5 640.5 V594.4 M138.5 640.5 V591.5 M140.5 640.5 V624.4 M141.5 640.5 V579.4 M142.5 640.5 V570.2 M144.5 640.5 V605.4 M145.5 640.5 V609.6 M147.5 640.5 V591.5 M148.5 640.5 V613.6 M149.5 640.5 V619.4 M151.5 640.5 V621.5 M152.5 640.5 V624.6 M154.5 640.5 V580.4 M155.5 640.5 V620.4 M156.5 640.5 V612.2 M165.5 640.5 V614.8 M166.5 640.5 V621.1 M167.5 640.5 V617.5 M169.5 640.5 V619.6 M170.5 640.5 V626.7 M172.5 640.5 V615.7 M173.5 640.5 V625.7 M174.5 640.5 V602.6 M176.5 640.5 V623.9 M177.5 640.5 V614.5 M179.5 640.5 V620.4 M180.5 640.5 V611.8 M181.5 640.5 V624.5 M183.5 640.5 V611.3 M184.5 640.5 V621.4 M186.5 640.5 V608.2 M187.5 640.5 V615.1 M188.5 640.5 V586.0 M190.5 640.5 V625.5 M191.5 640.5 V613.7 M193.5 640.5 V616.6 M194.5 640.5 V603.3 M204.5 640.5 V623.1 M205.5 640.5 V615.8 M206.5 640.5 V574.6 M208.5 640.5 V618.2 M209.5 640.5 V618.8 M211.5 640.5 V619.0 M212.5 640.5 V624.5 M213.5 640.5 V626.8 M215.5 640.5 V623.2 M216.5 640.5 V615.5 M218.5 640.5 V605.1 M219.5 640.5 V611.5 M220.5 640.5 V610.7 M222.5 640.5 V613.6 M223.5 640.5 V614.4 M225.5 640.5 V619.0 M226.5 640.5 V613.7 M227.5 640.5 V602.6 M229.5 640.5 V622.8 M230.5 640.5 V625.0 M232.5 640.5 V602.6 M241.5 640.5 V618.5 M243.5 640.5 V611.6 M244.5 640.5 V612.6 M245.5 640.5 V627.4 M247.5 640.5 V602.6 M248.5 640.5 V602.6 M250.5 640.5 V619.1 M251.5 640.5 V613.9 M252.5 640.5 V619.5 M254.5 640.5 V626.1 M255.5 640.5 V592.3 M257.5 640.5 V617.4 M258.5 640.5 V610.0 M259.5 640.5 V614.3 M261.5 640.5 V620.0 M262.5 640.5 V607.1 M264.5 640.5 V625.4 M265.5 640.5 V613.5 M266.5 640.5 V610.0 M268.5 640.5 V622.5 M269.5 640.5 V630.2 M279.5 640.5 V626.2 M280.5 640.5 V618.6 M282.5 640.5 V616.0 M283.5 640.5 V604.6 M284.5 640.5 V626.7 M286.5 640.5 V620.4 M287.5 640.5 V614.9 M289.5 640.5 V621.6 M290.5 640.5 V632.2 M291.5 640.5 V613.3 M293.5 640.5 V602.6 M294.5 640.5 V611.2 M296.5 640.5 V626.3 M297.5 640.5 V623.3 M298.5 640.5 V618.7 M300.5 640.5 V602.6 M301.5 640.5 V615.2 M303.5 640.5 V619.6 M304.5 640.5 V604.5 M305.5 640.5 V621.0 M307.5 640.5 V602.6 M308.5 640.5 V625.0 M318.5 640.5 V623.7 M319.5 640.5 V614.2 M321.5 640.5 V606.2 M322.5 640.5 V614.9 M323.5 640.5 V618.0 M325.5 640.5 V630.3 M326.5 640.5 V625.1 M328.5 640.5 V624.5 M329.5 640.5 V624.1 M330.5 640.5 V615.5 M332.5 640.5 V622.8 M333.5 640.5 V613.5 M335.5 640.5 V619.8 M336.5 640.5 V622.8 M337.5 640.5 V592.3 M339.5 640.5 V616.9 M340.5 640.5 V612.8 M342.5 640.5 V623.7 M343.5 640.5 V592.3 M344.5 640.5 V628.5 M346.5 640.5 V603.8 M347.5 640.5 V605.9 M355.5 640.5 V621.7 M357.5 640.5 V623.7 M358.5 640.5 V627.9 M360.5 640.5 V613.6 M361.5 640.5 V613.2 M362.5 640.5 V592.7 M364.5 640.5 V612.8 M365.5 640.5 V621.6 M367.5 640.5 V630.4 M368.5 640.5 V597.5 M369.5 640.5 V613.4 M371.5 640.5 V626.7 M372.5 640.5 V592.3 M374.5 640.5 V626.7 M375.5 640.5 V592.7 M376.5 640.5 V602.0 M378.5 640.5 V609.1 M379.5 640.5 V616.8 M381.5 640.5 V629.2 M382.5 640.5 V616.4 M383.5 640.5 V626.4 M385.5 640.5 V608.9 M393.5 640.5 V629.2 M394.5 640.5 V622.5 M396.5 640.5 V600.5 M397.5 640.5 V593.5 M399.5 640.5 V624.3 M400.5 640.5 V626.3 M401.5 640.5 V605.3 M403.5 640.5 V605.7 M404.5 640.5 V623.1 M406.5 640.5 V621.0 M407.5 640.5 V621.0 M408.5 640.5 V624.3 M410.5 640.5 V620.9 M411.5 640.5 V600.0 M413.5 640.5 V607.7 M414.5 640.5 V592.7 M415.5 640.5 V616.0 M417.5 640.5 V616.5 M418.5 640.5 V588.1 M420.5 640.5 V616.4 M421.5 640.5 V625.1 M422.5 640.5 V586.0 M432.5 640.5 V607.6 M433.5 640.5 V597.0 M435.5 640.5 V605.9 M436.5 640.5 V598.7 M438.5 640.5 V612.7 M439.5 640.5 V621.2 M440.5 640.5 V614.4 M442.5 640.5 V618.5 M443.5 640.5 V588.1 M445.5 640.5 V627.1 M446.5 640.5 V626.0 M447.5 640.5 V615.3 M449.5 640.5 V613.8 M450.5 640.5 V619.4 M452.5 640.5 V597.2 M453.5 640.5 V613.5 M454.5 640.5 V609.0 M456.5 640.5 V600.5 M457.5 640.5 V621.9 M459.5 640.5 V628.4 M460.5 640.5 V606.9 M461.5 640.5 V621.0 M470.5 640.5 V599.1 M471.5 640.5 V611.8 M472.5 640.5 V603.6 M474.5 640.5 V606.8 M475.5 640.5 V628.9 M477.5 640.5 V607.4 M478.5 640.5 V620.9 M479.5 640.5 V621.5 M481.5 640.5 V619.0 M482.5 640.5 V606.7 M484.5 640.5 V605.2 M485.5 640.5 V603.5 M486.5 640.5 V626.9 M488.5 640.5 V586.0 M489.5 640.5 V630.1 M491.5 640.5 V616.2 M492.5 640.5 V608.8 M493.5 640.5 V621.5 M495.5 640.5 V612.8 M496.5 640.5 V584.0 M498.5 640.5 V603.6 M499.5 640.5 V621.9 M509.5 640.5 V622.0 M510.5 640.5 V621.5 M511.5 640.5 V565.2 M513.5 640.5 V602.4 M514.5 640.5 V616.4 M516.5 640.5 V613.0 M517.5 640.5 V614.1 M518.5 640.5 V613.2 M520.5 640.5 V617.1 M521.5 640.5 V618.2 M523.5 640.5 V624.7 M524.5 640.5 V620.6 M525.5 640.5 V593.4 M527.5 640.5 V609.6 M528.5 640.5 V614.6 M530.5 640.5 V617.2 M531.5 640.5 V614.6 M532.5 640.5 V611.6 M534.5 640.5 V620.7 M535.5 640.5 V613.3 M537.5 640.5 V612.8 M546.5 640.5 V624.6 M548.5 640.5 V624.8 M549.5 640.5 V626.0 M550.5 640.5 V626.3 M552.5 640.5 V611.0 M553.5 640.5 V631.7 M555.5 640.5 V621.4 M556.5 640.5 V623.7 M557.5 640.5 V623.8 M559.5 640.5 V618.6 M560.5 640.5 V608.2 M562.5 640.5 V618.8 M563.5 640.5 V620.5 M564.5 640.5 V623.7 M566.5 640.5 V620.4 M567.5 640.5 V610.8 M569.5 640.5 V622.3 M570.5 640.5 V626.8 M571.5 640.5 V627.4 M573.5 640.5 V626.6 M574.5 640.5 V628.0 M576.5 640.5 V616.5 M584.5 640.5 V622.4 M585.5 640.5 V626.0 M587.5 640.5 V613.0 M588.5 640.5 V628.1 M589.5 640.5 V619.4 M591.5 640.5 V619.0 M592.5 640.5 V631.6 M594.5 640.5 V631.6 M595.5 640.5 V629.3 M596.5 640.5 V618.2 M598.5 640.5 V614.7 M599.5 640.5 V630.4 M601.5 640.5 V617.0 M602.5 640.5 V626.7 M603.5 640.5 V626.8 M605.5 640.5 V627.6 M606.5 640.5 V626.4 M608.5 640.5 V632.4 M609.5 640.5 V629.6 M610.5 640.5 V630.5 M612.5 640.5 V621.4 M613.5 640.5 V610.5 M623.5 640.5 V610.5 M624.5 640.5 V626.5 M626.5 640.5 V632.1 M627.5 640.5 V626.9 M628.5 640.5 V629.3 M630.5 640.5 V610.5 M631.5 640.5 V620.8 M633.5 640.5 V628.4 M634.5 640.5 V617.9 M635.5 640.5 V621.1 M637.5 640.5 V631.8 M638.5 640.5 V627.5 M640.5 640.5 V626.0 M641.5 640.5 V624.5 M642.5 640.5 V623.8 M644.5 640.5 V626.5 M645.5 640.5 V623.4 M647.5 640.5 V627.7 M648.5 640.5 V629.1 M649.5 640.5 V612.4 M651.5 640.5 V622.3 M652.5 640.5 V621.8 M660.5 640.5 V631.7 M662.5 640.5 V625.6 M663.5 640.5 V618.9 M665.5 640.5 V630.7 M666.5 640.5 V616.5 M667.5 640.5 V626.8 M669.5 640.5 V622.0 M670.5 640.5 V594.4 M672.5 640.5 V623.3 M673.5 640.5 V615.5 M674.5 640.5 V626.8 M676.5 640.5 V611.9 M677.5 640.5 V628.6 M679.5 640.5 V629.3 M680.5 640.5 V619.8 M681.5 640.5 V629.8 M683.5 640.5 V626.7 M684.5 640.5 V618.2 M686.5 640.5 V615.5 M687.5 640.5 V632.3 M688.5 640.5 V621.3 M690.5 640.5 V610.5 M699.5 640.5 V601.7 M701.5 640.5 V626.0 M702.5 640.5 V627.8 M704.5 640.5 V626.3 M705.5 640.5 V630.2 M706.5 640.5 V626.1 M708.5 640.5 V625.7 M709.5 640.5 V625.5 M711.5 640.5 V615.7 M712.5 640.5 V625.9 M713.5 640.5 V631.3 M715.5 640.5 V616.9 M716.5 640.5 V629.8 M718.5 640.5 V627.1 M719.5 640.5 V625.4 M720.5 640.5 V626.5 M722.5 640.5 V629.6 M723.5 640.5 V626.0 M725.5 640.5 V610.5 M726.5 640.5 V627.8 M727.5 640.5 V625.4 M737.5 640.5 V617.2 M738.5 640.5 V620.3 M740.5 640.5 V620.2 M741.5 640.5 V619.4 M743.5 640.5 V633.1 M744.5 640.5 V629.4 M745.5 640.5 V624.5 M747.5 640.5 V622.1 M748.5 640.5 V615.7 M750.5 640.5 V622.3 M751.5 640.5 V626.5 M752.5 640.5 V625.0 M754.5 640.5 V626.4 M755.5 640.5 V623.8 M757.5 640.5 V620.9 M758.5 640.5 V627.1 M759.5 640.5 V629.2 M761.5 640.5 V629.4 M762.5 640.5 V617.5 M764.5 640.5 V615.8 M765.5 640.5 V618.4 M766.5 640.5 V619.5 M775.5 640.5 V619.6 M776.5 640.5 V625.3 M777.5 640.5 V620.9 M779.5 640.5 V630.2 M780.5 640.5 V626.4 M782.5 640.5 V628.9 M783.5 640.5 V620.5 M784.5 640.5 V628.2 M786.5 640.5 V625.8 M787.5 640.5 V622.8 M789.5 640.5 V615.1 M790.5 640.5 V629.1 M791.5 640.5 V556.9 M793.5 640.5 V619.8 M794.5 640.5 V630.4 M796.5 640.5 V622.4 M797.5 640.5 V628.2 M798.5 640.5 V625.8 M800.5 640.5 V632.7 M801.5 640.5 V620.6 M803.5 640.5 V627.8 M804.5 640.5 V629.6 M814.5 640.5 V611.7 M815.5 640.5 V620.6 M816.5 640.5 V611.7 M818.5 640.5 V622.7 M819.5 640.5 V627.1 M821.5 640.5 V624.6 M822.5 640.5 V612.6 M823.5 640.5 V625.4 M825.5 640.5 V622.4 M826.5 640.5 V622.0 M828.5 640.5 V629.6 M829.5 640.5 V624.5 M830.5 640.5 V627.8 M832.5 640.5 V630.9 M833.5 640.5 V619.3 M835.5 640.5 V620.9 M836.5 640.5 V624.8 M837.5 640.5 V593.3 M839.5 640.5 V633.2 M840.5 640.5 V622.2 M842.5 640.5 V625.8 M843.5 640.5 V632.3 M851.5 640.5 V625.6 M853.5 640.5 V631.8 M854.5 640.5 V625.4 M855.5 640.5 V624.4 M857.5 640.5 V623.1 M858.5 640.5 V623.9 M860.5 640.5 V624.2 M861.5 640.5 V630.5 M862.5 640.5 V564.1 M864.5 640.5 V627.9 M865.5 640.5 V626.5 M867.5 640.5 V623.6 M868.5 640.5 V621.3 M869.5 640.5 V612.3 M871.5 640.5 V634.6 M872.5 640.5 V622.8 M874.5 640.5 V626.3 M875.5 640.5 V611.7 M876.5 640.5 V618.8 M878.5 640.5 V632.2 M879.5 640.5 V622.8 M881.5 640.5 V627.9 M889.5 640.5 V618.4 M890.5 640.5 V630.2 M892.5 640.5 V625.8 M893.5 640.5 V626.0 M894.5 640.5 V625.8 M896.5 640.5 V628.2 M897.5 640.5 V632.8 M899.5 640.5 V622.4 M900.5 640.5 V618.3 M901.5 640.5 V625.6 M903.5 640.5 V630.1 M904.5 640.5 V624.0 M906.5 640.5 V621.6 M907.5 640.5 V626.2 M908.5 640.5 V625.3 M910.5 640.5 V614.6 M911.5 640.5 V630.4 M913.5 640.5 V628.1 M914.5 640.5 V633.0 M915.5 640.5 V622.7 M917.5 640.5 V622.9 M918.5 640.5 V624.3 M928.5 640.5 V622.6 M929.5 640.5 V596.7 M931.5 640.5 V619.0 M932.5 640.5 V618.3 M933.5 640.5 V596.7 M935.5 640.5 V617.8 M936.5 640.5 V628.4 M938.5 640.5 V613.5 M939.5 640.5 V624.2 M940.5 640.5 V597.5 M942.5 640.5 V626.0 M943.5 640.5 V621.9 M945.5 640.5 V627.8 M946.5 640.5 V616.4 M947.5 640.5 V624.7 M949.5 640.5 V589.2 M950.5 640.5 V620.4 M952.5 640.5 V622.1 M953.5 640.5 V607.4 M954.5 640.5 V607.5 M956.5 640.5 V616.8 M957.5 640.5 V624.0 M967.5 640.5 V627.1 M968.5 640.5 V618.3 M970.5 640.5 V602.6 M971.5 640.5 V623.6 M972.5 640.5 V625.5 M974.5 640.5 V625.1 M975.5 640.5 V627.2 M977.5 640.5 V626.6 M978.5 640.5 V621.9 M979.5 640.5 V606.1 M981.5 640.5 V620.5 M982.5 640.5 V623.9 M984.5 640.5 V629.5 M985.5 640.5 V618.8 M986.5 640.5 V620.6 M988.5 640.5 V627.8 M989.5 640.5 V627.1 M991.5 640.5 V620.8 M992.5 640.5 V611.1 M993.5 640.5 V615.1 M995.5 640.5 V618.8 M1004.5 640.5 V620.9 M1006.5 640.5 V615.5 M1007.5 640.5 V618.5 M1009.5 640.5 V598.7 M1010.5 640.5 V626.0 M1011.5 640.5 V621.2 M1013.5 640.5 V604.8 M1014.5 640.5 V620.5 M1016.5 640.5 V602.6 M1017.5 640.5 V618.7 M1018.5 640.5 V617.1 M1020.5 640.5 V621.2 M1021.5 640.5 V627.3 M1023.5 640.5 V625.1 M1024.5 640.5 V598.7 M1025.5 640.5 V580.8 M1027.5 640.5 V612.7 M1028.5 640.5 V608.8 M1030.5 640.5 V613.1 M1031.5 640.5 V608.0 M1032.5 640.5 V620.5 M1042.5 640.5 V581.9 M1043.5 640.5 V608.4 M1045.5 640.5 V621.1 M1046.5 640.5 V627.0 M1048.5 640.5 V572.5 M1049.5 640.5 V622.5 M1050.5 640.5 V612.6 M1052.5 640.5 V623.6 M1053.5 640.5 V625.6 M1055.5 640.5 V621.0 M1056.5 640.5 V600.8 M1057.5 640.5 V618.8 M1059.5 640.5 V617.0 M1060.5 640.5 V618.3 M1062.5 640.5 V581.9 M1063.5 640.5 V609.1 M1064.5 640.5 V603.0 M1066.5 640.5 V628.5 M1067.5 640.5 V573.5 M1069.5 640.5 V618.4 M1070.5 640.5 V620.9 M1071.5 640.5 V598.7 M1078.5 640.5 V600.6" stroke="#bcbcbc" stroke-width="1" fill="none"/>
<path d="M174.5 486.5 V640.5 M359.5 486.5 V640.5 M544.5 486.5 V640.5 M729.5 486.5 V640.5 M915.5 486.5 V640.5 M1099.5 486.5 V640.5 M45.5 598.5 H1130.5 M45.5 556.5 H1130.5 M45.5 515.5 H1130.5" stroke="#b0b0b0" stroke-width="1.1" fill="none"/>
<path d="M174.5 640.5 v4.9 M359.5 640.5 v4.9 M544.5 640.5 v4.9 M729.5 640.5 v4.9 M915.5 640.5 v4.9 M1099.5 640.5 v4.9 M45.5 640.5 h-4.9 M45.5 598.5 h-4.9 M45.5 556.5 h-4.9 M45.5 515.5 h-4.9" stroke="#000" stroke-width="1.1" fill="none"/>
<rect x="45.5" y="486.5" width="1085.0" height="154.0" fill="none" stroke="#000" stroke-width="1.1"/>
<text x="34.6" y="644.0" text-anchor="end" font-size="12.8" textLength="7.8" lengthAdjust="spacingAndGlyphs">0</text>
<text x="34.6" y="602.3" text-anchor="end" font-size="12.8" textLength="7.8" lengthAdjust="spacingAndGlyphs">2</text>
<text x="34.6" y="560.6" text-anchor="end" font-size="12.8" textLength="7.8" lengthAdjust="spacingAndGlyphs">4</text>
<text x="34.6" y="518.9" text-anchor="end" font-size="12.8" textLength="7.8" lengthAdjust="spacingAndGlyphs">6</text>
<text x="174.5" y="658.9" text-anchor="middle" font-size="12.8" textLength="52.3" lengthAdjust="spacingAndGlyphs">2021-01</text>
<text x="359.5" y="658.9" text-anchor="middle" font-size="12.8" textLength="52.3" lengthAdjust="spacingAndGlyphs">2022-01</text>
<text x="544.5" y="658.9" text-anchor="middle" font-size="12.8" textLength="52.3" lengthAdjust="spacingAndGlyphs">2023-01</text>
<text x="729.5" y="658.9" text-anchor="middle" font-size="12.8" textLength="52.3" lengthAdjust="spacingAndGlyphs">2024-01</text>
<text x="915.5" y="658.9" text-anchor="middle" font-size="12.8" textLength="52.3" lengthAdjust="spacingAndGlyphs">2025-01</text>
<text x="1099.5" y="658.9" text-anchor="middle" font-size="12.8" textLength="52.3" lengthAdjust="spacingAndGlyphs">2026-01</text>
<text x="45.3" y="481.9" font-size="12.8" textLength="22" lengthAdjust="spacingAndGlyphs">1e6</text>
<text transform="translate(18.3,565.5) rotate(-90)" text-anchor="middle" font-size="12.8" textLength="43.3" lengthAdjust="spacingAndGlyphs">Volume</text>
</g>
<g>
<path d="M71.6 96.9 L61.1 117.6 L82.1 117.6 Z" fill="#008000"/>
<path d="M71.6 136.1 L61.1 115.3 L82.1 115.3 Z" fill="#ff0000"/>
<text x="97.4" y="31.7" font-size="12.60" textLength="31.8" lengthAdjust="spacingAndGlyphs">Close</text>
<text x="96.0" y="51.7" font-size="12.6"><tspan textLength="38.5" lengthAdjust="spacingAndGlyphs">MA50[</tspan><tspan font-size="13.6">买</tspan>]</text>
<text x="96.0" y="72.6" font-size="12.6"><tspan textLength="38.5" lengthAdjust="spacingAndGlyphs">MA25[</tspan><tspan font-size="13.6">卖</tspan>]</text>
<text x="96.0" y="91.8" font-size="12.60" textLength="41.4" lengthAdjust="spacingAndGlyphs">MA200</text>
<text x="96.3" y="109.8" font-size="12.60" textLength="19.7" lengthAdjust="spacingAndGlyphs">Buy</text>
<text x="97.4" y="128.8" font-size="12.60" textLength="20.9" lengthAdjust="spacingAndGlyphs">Sell</text>
</g>
<g>
<rect x="930.4" y="362.5" width="182.5" height="90" rx="4" fill="#fff" fill-opacity="0.9" stroke="#008000" stroke-width="1.1"/>
<text x="1108.3" y="377.8" font-size="14.20" textLength="160.5" lengthAdjust="spacingAndGlyphs" text-anchor="end" fill="#008000">274.05 (+2.56 +0.94%)</text>
<text x="1107.5" y="394.5" font-size="14.20" textLength="107.2" lengthAdjust="spacingAndGlyphs" text-anchor="end" fill="#008000">168.69~277.00</text>
<text x="1107.7" y="410.3" font-size="14.20" textLength="163.7" lengthAdjust="spacingAndGlyphs" text-anchor="end" fill="#008000">268.64/260.05/226.06</text>
<text x="1107.7" y="426.6" font-size="14.20" textLength="126.8" lengthAdjust="spacingAndGlyphs" text-anchor="end" fill="#008000">2025-11-24 05:00</text>
<text x="1107.7" y="444.6" font-size="14.20" textLength="172.5" lengthAdjust="spacingAndGlyphs" text-anchor="end" fill="#008000">-1.04/偏空/+0.37/+0.22</text>
</g>
<g>
<text x="45.6" y="695.7" font-size="16.40" textLength="34.8" lengthAdjust="spacingAndGlyphs" font-family='"Noto Sans CJK SC", "Liberation Sans", sans-serif'>AAPL</text>
<text x="85.9" y="695.7" font-size="16.30" font-family='"Noto Sans CJK SC", "Liberation Sans", sans-serif'>交易次数:</text>
<text x="162.8" y="695.7" font-size="16.40" textLength="9.0" lengthAdjust="spacingAndGlyphs" font-family='"Noto Sans CJK SC", "Liberation Sans", sans-serif'>4</text>
<text x="45.6" y="716.5" font-size="16.1"><tspan font-family='"Noto Sans CJK SC", "Liberation Sans", sans-serif' font-size="16.4">策略总收益率:</tspan><tspan x="155.9" textLength="65.1" lengthAdjust="spacingAndGlyphs">166.06%</tspan></text>
<text x="45.6" y="735.2" font-size="16.1"><tspan font-family='"Noto Sans CJK SC", "Liberation Sans", sans-serif' font-size="16.4">长期持有收益:</tspan><tspan x="155.9" textLength="65.1" lengthAdjust="spacingAndGlyphs">149.07%</tspan></text>
<text x="45.6" y="755.7" font-size="16.40" font-family='"Noto Sans CJK SC", "Liberation Sans", sans-serif'>交易记录:</text>
<text x="55.4" y="772.5" font-size="16.40" textLength="64.0" lengthAdjust="spacingAndGlyphs" font-family='"Noto Sans CJK SC", "Liberation Sans", sans-serif'>Buy Date</text>
<text x="131.3" y="772.5" font-size="16.40" textLength="65.6" lengthAdjust="spacingAndGlyphs" font-family='"Noto Sans CJK SC", "Liberation Sans", sans-serif'>Buy Price</text>
<text x="207.8" y="772.5" font-size="16.40" textLength="65.7" lengthAdjust="spacingAndGlyphs" font-family='"Noto Sans CJK SC", "Liberation Sans", sans-serif'>Sell Date</text>
<text x="284.6" y="772.5" font-size="16.40" textLength="66.5" lengthAdjust="spacingAndGlyphs" font-family='"Noto Sans CJK SC", "Liberation Sans", sans-serif'>Sell Price</text>
<text x="362.2" y="772.5" font-size="16.40" textLength="93.7" lengthAdjust="spacingAndGlyphs" font-family='"Noto Sans CJK SC", "Liberation Sans", sans-serif'>Holding Days</text>
<text x="467.0" y="772.5" font-size="16.40" textLength="54.0" lengthAdjust="spacingAndGlyphs" font-family='"Noto Sans CJK SC", "Liberation Sans", sans-serif'>Profit %</text>
<text x="45.2" y="789.2" font-size="16.10" textLength="89.1" lengthAdjust="spacingAndGlyphs">2020-10-06</text>
<text x="214.2" y="789.2" font-size="16.10" textLength="53.8" lengthAdjust="spacingAndGlyphs" text-anchor="end">110.03</text>
<text x="219.7" y="789.2" font-size="16.10" textLength="88.4" lengthAdjust="spacingAndGlyphs">2021-08-10</text>
<text x="393.8" y="789.2" font-size="16.10" textLength="53.8" lengthAdjust="spacingAndGlyphs" text-anchor="end">142.38</text>
<text x="478.0" y="789.2" font-size="16.10" textLength="28.7" lengthAdjust="spacingAndGlyphs" text-anchor="end">308</text>
<text x="548.1" y="789.2" font-size="16.10" textLength="44.2" lengthAdjust="spacingAndGlyphs" text-anchor="end">29.40</text>
<text x="45.2" y="806.5" font-size="16.10" textLength="89.1" lengthAdjust="spacingAndGlyphs">2021-09-17</text>
<text x="214.2" y="806.5" font-size="16.10" textLength="53.8" lengthAdjust="spacingAndGlyphs" text-anchor="end">142.90</text>
<text x="219.7" y="806.5" font-size="16.10" textLength="88.4" lengthAdjust="spacingAndGlyphs">2022-01-12</text>
<text x="393.8" y="806.5" font-size="16.10" textLength="53.8" lengthAdjust="spacingAndGlyphs" text-anchor="end">171.90</text>
<text x="478.0" y="806.5" font-size="16.10" textLength="28.7" lengthAdjust="spacingAndGlyphs" text-anchor="end">117</text>
<text x="548.1" y="806.5" font-size="16.10" textLength="44.2" lengthAdjust="spacingAndGlyphs" text-anchor="end">20.29</text>
<text x="45.2" y="823.9" font-size="16.10" textLength="89.1" lengthAdjust="spacingAndGlyphs">2022-01-19</text>
<text x="214.2" y="823.9" font-size="16.10" textLength="53.8" lengthAdjust="spacingAndGlyphs" text-anchor="end">162.81</text>
<text x="219.7" y="823.9" font-size="16.10" textLength="88.4" lengthAdjust="spacingAndGlyphs">2024-07-24</text>
<text x="393.8" y="823.9" font-size="16.10" textLength="53.8" lengthAdjust="spacingAndGlyphs" text-anchor="end">217.13</text>
<text x="478.0" y="823.9" font-size="16.10" textLength="28.7" lengthAdjust="spacingAndGlyphs" text-anchor="end">916</text>
<text x="548.1" y="823.9" font-size="16.10" textLength="44.2" lengthAdjust="spacingAndGlyphs" text-anchor="end">33.36</text>
<text x="45.2" y="841.3" font-size="16.10" textLength="89.1" lengthAdjust="spacingAndGlyphs">2024-08-05</text>
<text x="214.2" y="841.3" font-size="16.10" textLength="53.8" lengthAdjust="spacingAndGlyphs" text-anchor="end">207.84</text>
<text x="219.7" y="841.3" font-size="16.10" textLength="88.4" lengthAdjust="spacingAndGlyphs">2025-11-20</text>
<text x="393.8" y="841.3" font-size="16.10" textLength="53.8" lengthAdjust="spacingAndGlyphs" text-anchor="end">266.40</text>
<text x="478.0" y="841.3" font-size="16.10" textLength="28.7" lengthAdjust="spacingAndGlyphs" text-anchor="end">472</text>
<text x="548.1" y="841.3" font-size="16.10" textLength="44.2" lengthAdjust="spacingAndGlyphs" text-anchor="end">28.17</text>
</g>
</svg></body></html>
